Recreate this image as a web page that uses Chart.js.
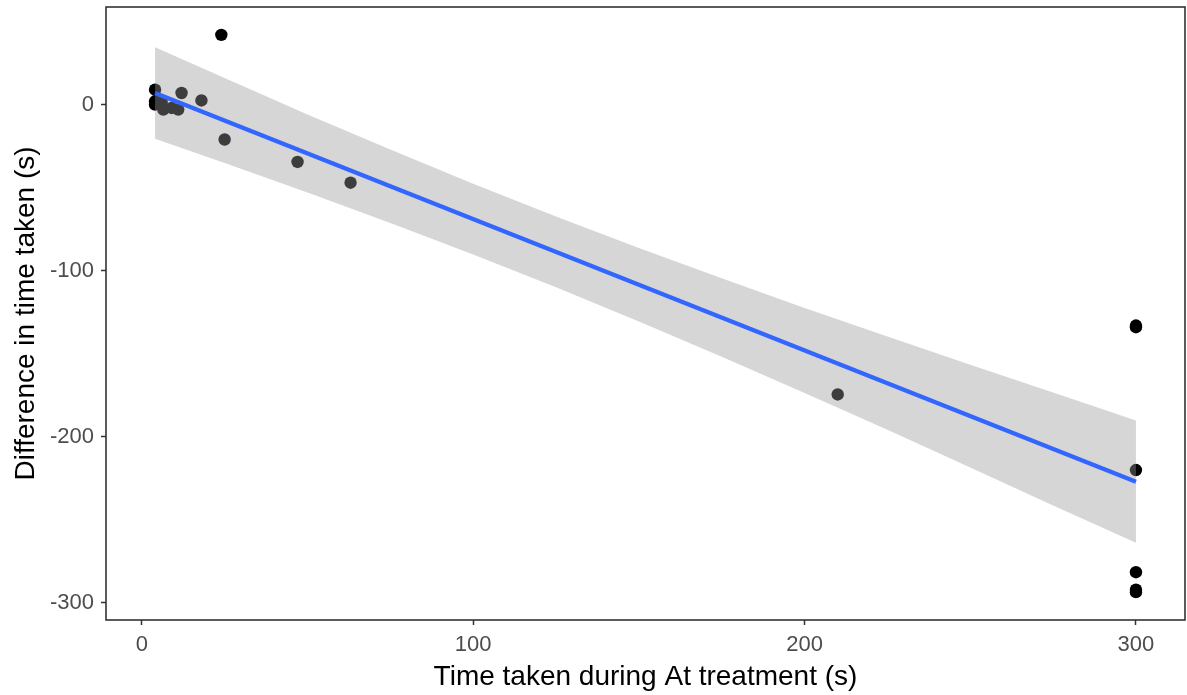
<!DOCTYPE html>
<html>
<head>
<meta charset="utf-8">
<title>Difference in time taken vs time during At treatment</title>
<script src="https://cdn.jsdelivr.net/npm/chart.js@4.4.1/dist/chart.umd.min.js"></script>
<style>
  html, body { margin: 0; padding: 0; background: #ffffff; overflow: hidden; }
  #wrap { width: 1187px; height: 695px; position: relative; }
</style>
</head>
<body>
<div id="wrap"><canvas id="chart"></canvas></div>
<script>
// Observations: time taken during At treatment (s) and difference in time taken (s)
const atTime   = [4, 4, 4, 6, 6.5, 9, 11, 12, 18, 24, 25, 47, 63, 210, 300, 300, 300, 300, 300, 300];
const timeDiff = [9, 2, 0, 1.5, -3, -2, -3, 7, 2.5, 42, -21, -34.5, -47, -174.5, -133, -134, -220, -281.5, -292, -293.5];

// Linear fit with its 95% confidence band
const fitX = [4, 300];
const fitY = [7, -227];
const bandX     = [4, 25, 50, 75, 100, 125, 150, 175, 200, 225, 250, 275, 300];
const bandUpper = [34.6, 16.0, -5.9, -27.0, -47.6, -67.4, -86.3, -104.6, -122.4, -139.6, -156.6, -173.3, -190.2];
const bandLower = [-20.6, -35.2, -52.9, -71.2, -90.2, -110.0, -130.5, -151.8, -173.6, -195.8, -218.4, -241.3, -263.8];

// Axis ticks
const xTicks = [0, 100, 200, 300];
const yTicks = [-300, -200, -100, 0];
const xTickLabels = ['0', '100', '200', '300'];
const yTickLabels = ['-300', '-200', '-100', '0'];

const toPoints = (xs, ys) => xs.map((x, i) => ({ x: x, y: ys[i] }));

// Panel limits padded by 5% of the data range on each side
const pad = (lo, hi) => { const d = (hi - lo) * 0.05; return [lo - d, hi + d]; };
const [xMin, xMax] = pad(Math.min(...atTime), Math.max(...atTime));
const [yMin, yMax] = pad(Math.min(...timeDiff), Math.max(...timeDiff));

const INK = '#333333';
const TICK_TEXT = '#4d4d4d';
const FONT = '"Liberation Sans", Arial, Helvetica, sans-serif';

// Draws the panel border on top of everything inside the plot area
const panelBorder = {
  id: 'panelBorder',
  afterDatasetsDraw(chart) {
    const { ctx, chartArea: a } = chart;
    ctx.save();
    ctx.strokeStyle = INK;
    ctx.lineWidth = 1.6;
    ctx.strokeRect(a.left, a.top, a.right - a.left, a.bottom - a.top);
    ctx.restore();
  }
};

new Chart(document.getElementById('chart'), {
  type: 'scatter',
  data: {
    datasets: [
      {
        label: 'Observations',
        data: toPoints(atTime, timeDiff),
        backgroundColor: '#000000',
        borderWidth: 0,
        pointRadius: 6.2,
        order: 3
      },
      {
        label: 'Band upper',
        data: toPoints(bandX, bandUpper),
        showLine: true,
        borderWidth: 0,
        borderColor: 'rgba(0,0,0,0)',
        pointRadius: 0,
        backgroundColor: 'rgba(153,153,153,0.4)',
        fill: '+1',
        order: 2
      },
      {
        label: 'Band lower',
        data: toPoints(bandX, bandLower),
        showLine: true,
        borderWidth: 0,
        borderColor: 'rgba(0,0,0,0)',
        pointRadius: 0,
        fill: false,
        order: 2
      },
      {
        label: 'Linear fit',
        data: toPoints(fitX, fitY),
        showLine: true,
        borderColor: '#3366FF',
        borderWidth: 4.2,
        pointRadius: 0,
        fill: false,
        order: 1
      }
    ]
  },
  options: {
    responsive: true,
    maintainAspectRatio: false,
    animation: false,
    events: [],
    layout: { autoPadding: false, padding: { top: 7, right: 2, left: 0, bottom: 0 } },
    plugins: {
      legend: { display: false },
      tooltip: { enabled: false }
    },
    scales: {
      x: {
        type: 'linear',
        min: xMin,
        max: xMax,
        afterBuildTicks: (s) => { s.ticks = xTicks.map(v => ({ value: v })); },
        afterFit: (s) => { s.height = 75; s.paddingLeft = 0; s.paddingRight = 0; },
        border: { display: false },
        grid: {
          drawOnChartArea: false,
          drawTicks: true,
          tickLength: 5,
          tickColor: INK,
          tickWidth: 1.5
        },
        ticks: {
          color: TICK_TEXT,
          font: { family: FONT, size: 22 },
          padding: 7,
          maxRotation: 0,
          callback: (v) => { const i = xTicks.indexOf(v); return i >= 0 ? xTickLabels[i] : ''; }
        },
        title: {
          display: true,
          text: 'Time taken during At treatment (s)',
          color: '#000000',
          font: { family: FONT, size: 28 },
          padding: { top: 0, bottom: 1 }
        }
      },
      y: {
        type: 'linear',
        min: yMin,
        max: yMax,
        afterBuildTicks: (s) => { s.ticks = yTicks.map(v => ({ value: v })); },
        afterFit: (s) => { s.width = 106; s.paddingTop = 0; s.paddingBottom = 0; },
        border: { display: false },
        grid: {
          drawOnChartArea: false,
          drawTicks: true,
          tickLength: 5,
          tickColor: INK,
          tickWidth: 1.5
        },
        ticks: {
          color: TICK_TEXT,
          font: { family: FONT, size: 22 },
          padding: 7,
          callback: (v) => { const i = yTicks.indexOf(v); return i >= 0 ? yTickLabels[i] : ''; }
        },
        title: {
          display: true,
          text: 'Difference in time taken (s)',
          color: '#000000',
          font: { family: FONT, size: 28 },
          padding: { top: 9, bottom: 0 }
        }
      }
    }
  },
  plugins: [panelBorder]
});
</script>
</body>
</html>
